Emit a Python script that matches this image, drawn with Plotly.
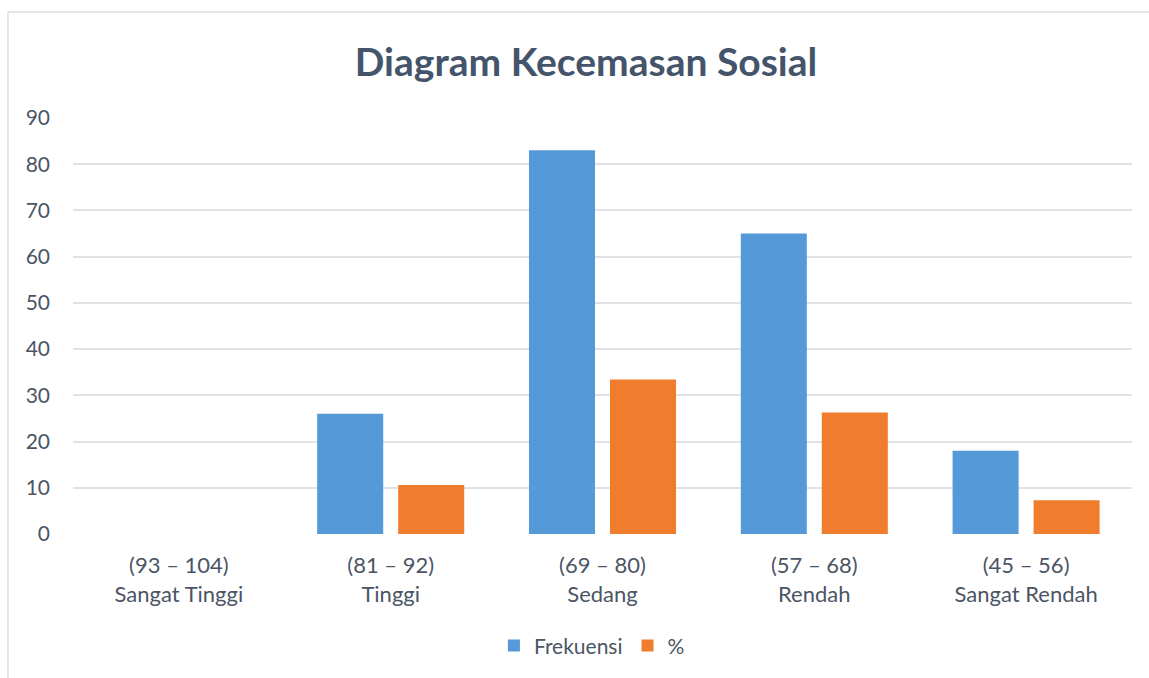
import plotly.graph_objects as go

categories = ["(93 – 104)<br>Sangat Tinggi", "(81 – 92)<br>Tinggi", "(69 – 80)<br>Sedang",
              "(57 – 68)<br>Rendah", "(45 – 56)<br>Sangat Rendah"]
frekuensi = [0, 26, 83, 65, 18]
persen = [0, 10.6, 33.4, 26.3, 7.3]
y_ticks = [0, 10, 20, 30, 40, 50, 60, 70, 80, 90]

FONT = "Lato"
TXT = "#4B5565"

fig = go.Figure()
fig.add_trace(go.Bar(x=categories, y=frekuensi, name="Frekuensi",
                     marker=dict(color="#5699D8", line=dict(width=0))))
fig.add_trace(go.Bar(x=categories, y=persen, name="%",
                     marker=dict(color="#F07C2E", line=dict(width=0))))

fig.update_layout(
    width=1149, height=678,
    paper_bgcolor="white", plot_bgcolor="white",
    margin=dict(l=73, r=17, t=118, b=144),
    barmode="group", bargap=0.235, bargroupgap=0.185,
    title=dict(text="<b>Diagram Kecemasan Sosial</b>", x=0.51, xanchor="center",
               y=0.908, yanchor="middle",
               font=dict(family=FONT, size=39, color="#44546A")),
    font=dict(family=FONT, size=21, color=TXT),
    legend=dict(orientation="h", x=0.49, xanchor="center", y=-0.269, yanchor="middle",
                font=dict(family=FONT, size=21, color=TXT), itemwidth=30,
                traceorder="normal"),
    xaxis=dict(showgrid=False, showline=False, ticks="", tickfont=dict(size=22, color=TXT),
               ticklabelstandoff=16),
    yaxis=dict(range=[0, 90], tickvals=y_ticks, showgrid=True, gridcolor="#DFE3E8",
               gridwidth=2, zeroline=False, showline=False, ticks="",
               tickfont=dict(size=21, color=TXT), ticklabelstandoff=22),
    shapes=[dict(type="rect", xref="paper", yref="paper",
                 x0=-0.0614, x1=1.05, y0=-0.5, y1=1.2548,
                 line=dict(color="#D9DDE2", width=1.5), fillcolor="rgba(0,0,0,0)",
                 layer="below")],
)

fig.write_html("out.html", config={"displayModeBar": False},
               post_script="document.body.style.margin='0';document.body.style.overflow='hidden';")
